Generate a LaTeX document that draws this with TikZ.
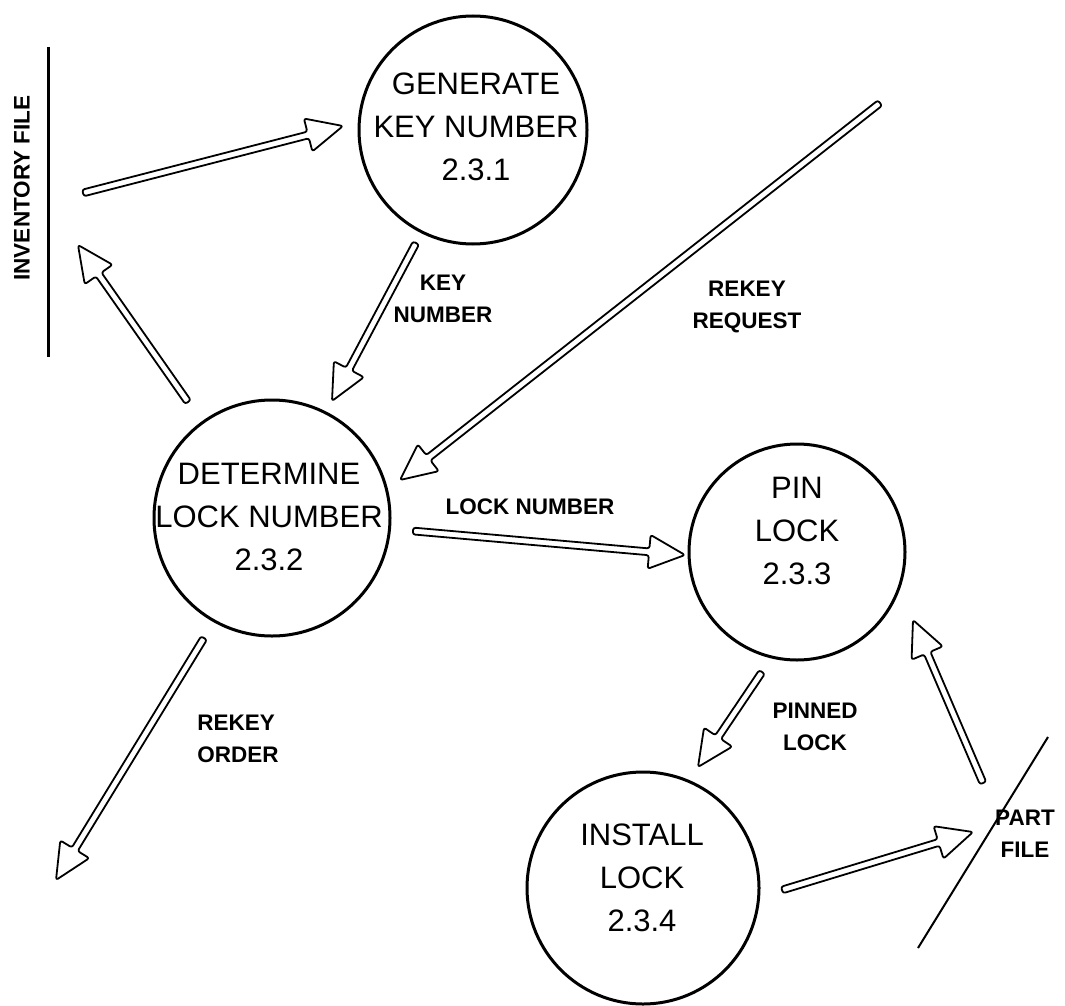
\documentclass[tikz,border=0pt]{standalone}
\usepackage{fontspec}
\setmainfont{Liberation Sans}
\usetikzlibrary{calc}

% Hollow data-flow arrow: outlined shaft with an open triangular head.
% #1 = tail coordinate, #2 = tip coordinate
\newcommand\flowarrow[2]{%
  \path (#2) coordinate (fa-t) ($(#2)!18pt!(#1)$) coordinate (fa-h);
  \draw[flowline]
    ($(#1)!1.7pt!90:(fa-t)$) -- ($(fa-h)!1.7pt!-90:(#1)$)
    -- ($(fa-h)!8.5pt!-90:(#1)$) -- (fa-t) -- ($(fa-h)!8.5pt!90:(#1)$)
    -- ($(fa-h)!1.7pt!90:(#1)$) -- ($(#1)!1.7pt!-90:(fa-t)$) -- cycle;}

\begin{document}
\begin{tikzpicture}[x=0.5pt,y=-0.5pt,
  proc/.style={circle, draw, line width=1.5pt, inner sep=0pt},
  ptext/.style={align=center, inner sep=0pt,
    font=\fontsize{15.5pt}{21.5pt}\selectfont},
  flab/.style={align=center, inner sep=0pt,
    font=\bfseries\fontsize{11.25pt}{16pt}\selectfont},
  flowline/.style={line width=0.9pt, line join=round,
    rounded corners=1.2pt, fill=white},
  store/.style={line width=1.5pt},
  slantstore/.style={line width=1pt}]

\useasboundingbox (0,0) rectangle (1065,1006);

% processes
\node[proc, minimum size=114pt] (gen) at (473,130) {};
\node[proc, minimum size=118pt] (det) at (272,518) {};
\node[proc, minimum size=108pt] (pin) at (797,552) {};
\node[proc, minimum size=116pt] (ins) at (643,888) {};

\node[ptext] (gent) at (476,127) {GENERATE\\KEY NUMBER\\2.3.1};
\node[ptext] (dett) at (269,517) {DETERMINE\\LOCK NUMBER\\2.3.2};
\node[ptext] (pint) at (797,531) {PIN\\LOCK\\2.3.3};
\node[ptext] (inst) at (642,878) {INSTALL\\LOCK\\2.3.4};

% data stores
\coordinate (invtop) at (48,47);
\coordinate (invbot) at (48,357);
\draw[store] (invtop) -- (invbot);
\node[flab, rotate=90] (invl) at (22,188) {INVENTORY FILE};

\coordinate (parttop) at (1048,737);
\coordinate (partbot) at (918,948);
\draw[slantstore] (partbot) -- (parttop);
\node[flab] (partl) at (1025,834) {PART\\FILE};

% flow end points
\coordinate (a1s) at (83,193);   \coordinate (a1t) at (343,126);
\coordinate (a2s) at (188,402);  \coordinate (a2t) at (78,245);
\coordinate (a3s) at (416,243);  \coordinate (a3t) at (332,401);
\coordinate (a4s) at (880,103);  \coordinate (a4t) at (400,480);
\coordinate (a5s) at (413,531);  \coordinate (a5t) at (685,555);
\coordinate (a6s) at (204,638);  \coordinate (a6t) at (56,880);
\coordinate (a7s) at (762,672);  \coordinate (a7t) at (698,767);
\coordinate (a8s) at (983,783);  \coordinate (a8t) at (913,620);
\coordinate (a9s) at (782,890);  \coordinate (a9t) at (973,832);

\flowarrow{a1s}{a1t}
\flowarrow{a2s}{a2t}
\flowarrow{a3s}{a3t}
\flowarrow{a4s}{a4t}
\flowarrow{a5s}{a5t}
\flowarrow{a6s}{a6t}
\flowarrow{a7s}{a7t}
\flowarrow{a8s}{a8t}
\flowarrow{a9s}{a9t}

% flow labels
\node[flab] (l3) at (443,299) {KEY\\NUMBER};
\node[flab] (l4) at (747,307) {REKEY\\REQUEST};
\node[flab] (l5) at (530,507) {LOCK NUMBER};
\node[flab, align=left] (l6) at (238,739) {REKEY\\ORDER};
\node[flab] (l7) at (815,727) {PINNED\\LOCK};

\end{tikzpicture}
\end{document}
